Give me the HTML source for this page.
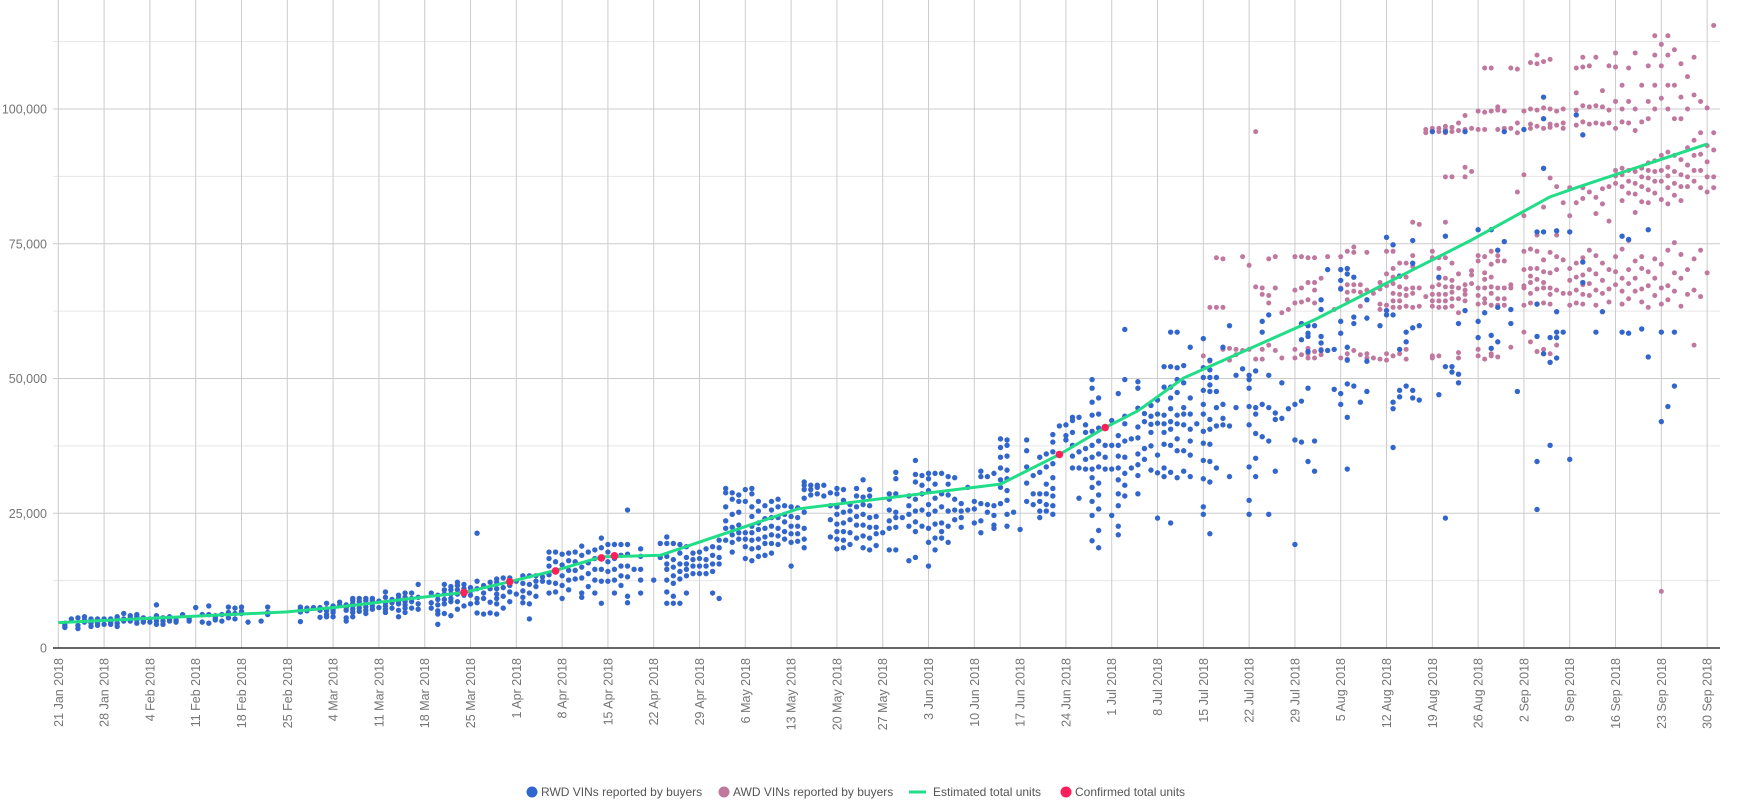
<!DOCTYPE html>
<html><head><meta charset="utf-8"><style>
html,body{margin:0;padding:0;background:#fff;}
svg{display:block;font-family:"Liberation Sans",Arial,sans-serif;}
</style></head><body>
<svg id="chart" width="1739" height="808" viewBox="0 0 1739 808" xmlns="http://www.w3.org/2000/svg">
<g id="grid"></g>
<g id="yaxis"></g>
<g id="xaxis"></g>
<g id="awd"></g>
<g id="rwd"></g>
<g id="est"></g>
<g id="conf"></g>
<g id="legend">
  <g><circle cx="532" cy="792" r="5.5" fill="#3366cc"/><text x="541" y="796" font-size="12" fill="#555">RWD VINs reported by buyers</text></g>
  <g><circle cx="724" cy="792" r="5.5" fill="#c0789f"/><text x="733" y="796" font-size="12" fill="#555">AWD VINs reported by buyers</text></g>
  <g><line x1="909" y1="792" x2="926" y2="792" stroke="#22dd88" stroke-width="3"/><text x="933" y="796" font-size="12" fill="#555">Estimated total units</text></g>
  <g><circle cx="1066" cy="792" r="5.5" fill="#ff1f5a"/><text x="1075" y="796" font-size="12" fill="#555">Confirmed total units</text></g>
</g>
</svg>
<script>
const yTicks=[0,25000,50000,75000,100000];
const yTickLabels=["0","25,000","50,000","75,000","100,000"];
const xTickDays=[0,7,14,21,28,35,42,49,56,63,70,77,84,91,98,105,112,119,126,133,140,147,154,161,168,175,182,189,196,203,210,217,224,231,238,245,252];
const xTickLabels=["21 Jan 2018","28 Jan 2018","4 Feb 2018","11 Feb 2018","18 Feb 2018","25 Feb 2018","4 Mar 2018","11 Mar 2018","18 Mar 2018","25 Mar 2018","1 Apr 2018","8 Apr 2018","15 Apr 2018","22 Apr 2018","29 Apr 2018","6 May 2018","13 May 2018","20 May 2018","27 May 2018","3 Jun 2018","10 Jun 2018","17 Jun 2018","24 Jun 2018","1 Jul 2018","8 Jul 2018","15 Jul 2018","22 Jul 2018","29 Jul 2018","5 Aug 2018","12 Aug 2018","19 Aug 2018","26 Aug 2018","2 Sep 2018","9 Sep 2018","16 Sep 2018","23 Sep 2018","30 Sep 2018"];
// values in thousands, grouped by day index (0 = 21 Jan 2018)
const rwdDays=[1,2,3,4,5,6,7,8,9,10,11,12,13,14,15,16,17,18,19,20,21,22,23,24,25,26,27,28,29,31,32,37,38,39,40,41,42,43,44,45,46,47,48,49,50,51,52,53,54,55,57,58,59,60,61,62,63,64,65,66,67,68,69,70,71,72,73,74,75,76,77,78,79,80,81,82,83,84,85,86,87,88,89,91,92,93,94,95,96,97,98,99,100,101,102,103,104,105,106,107,108,109,110,111,112,113,114,115,116,117,118,119,120,121,122,123,124,125,126,127,128,129,130,131,132,133,134,135,136,137,138,139,140,141,142,143,144,145,146,147,148,149,150,151,152,153,154,155,156,157,158,159,160,161,162,163,164,165,166,167,168,169,170,171,172,173,174,175,176,177,178,179,180,181,182,183,184,185,186,187,188,189,190,191,192,193,194,195,196,197,198,199,200,202,203,204,205,206,207,208,211,212,213,214,215,217,218,219,220,221,222,223,226,227,228,229,230,231,233,235,236,239,240,242,243,245,246,247,210,212,215,221,224,227,232,233];
const rwdVals=[[3.8,4.2,4.6],[5.4],[3.6,4.2,5.6],[4.8,5.2,5.8],[4.0,4.6,5.4],[4.2,4.6,5.0,5.4],[4.4,5.4],[4.4,4.8,5.2,5.4],[4,4.6,5.4,5.8],[5,5.4,6.4],[5,5.6,6],[4.6,5.2,5.8,6.2],[4.8,5.2,5.6],[4.8,5.4],[4.4,5,5.6,6,8],[4.4,5,5.6],[5,5.4,5.8],[4.8,5.2],[6.2],[5,5.4],[7.5],[4.8,6.2],[4.6,6.2,7.8],[5.2,5.6,6],[5,6.2],[5.6,6.6,7.6],[5.4,6.4,7.4],[6.4,6.8,7.6],[4.8],[5],[6.2,6.6,7.6],
[4.9,6.7,7.2,7.6],[6.9,7.4],[7.5],[5.7,7,7.5],[5.8,6.2,6.9,7.3,8.3],[5.8,6.6,7.1,7.8],[7.9,8.5],[5,5.6,7,7.5,8],[5.8,6.6,7.2,7.8,8.2,8.8,9.2],[6.8,7.4,8,8.6,9.2],[6.4,7,7.6,8.2,8.8,9.2],[7.2,7.8,8.8,9.2],[7.5,8.7],[6.6,7.2,7.8,8.4,9.4,10.4],[7.4,8.4,9],[5.8,7,8.2,8.6,9.2,9.8],[6.6,7.4,8,8.6,9.4,10.2],[7.4,8.6,9.2,10.2],[7.2,8.2,9.4,11.8],[7.4,8.4,10.2],[4.4,6.3,6.9,8,9,9.8],[6.4,8.2,9,10,10.8,11.8],[6,8.6,9.2,10,10.8,11.4],[7.2,8.6,10,10.8,11.6,12.2],[7.8,9.8,11,11.8],[8.2,9.8,10.6,11.2],[6.5,8.4,9.2,11,12.4,21.3],[6.3,9.2,10.2,11.6],[6.5,8.5,11,12.2],[6.3,8.2,9.2,10,11,12.2,12.8],[7.4,9.6,11.2,13],[8.6,10.4,11.6,13],[10,12.4],[8.4,9.4,10.6,12,13.4],[5.4,8.2,10.2,11.8,13.4],[9.6,11.4,12.4,13.4],[12.4,13.2],
[10.2,12.2,13.6,15.2,16.6,17.8],[10.4,12,14.4,16,17.8],[9.2,11.6,13.4,15.4,17.4],[10.8,12.6,14.4,16.2,17.6],[12.8,14.4,16,17.8],[9.4,10.2,13,15,17.2,18.9],[11.4,13.8,15.8,17.8],[10.2,12.6,14.6,16.6,18.2],[8.3,12.4,14.6,16.8,18.6,20.4],[12.4,14.2,16,17.8,19.2],[10.2,12.6,14.6,16.6,19.2],[11.6,13.4,15.2,17.2,19.2],[8.4,9.6,13.2,15.2,17.4,19.2,25.6],[14.6],[10.2,12.6,14.6,17,18.4],[12.6],[16.8,19.4],[8.3,10.4,12.6,14.6,15.6,17,19.4,20.6],[8.3,9.6,12,13.4,15,16.4,19.4],[8.3,12.8,14.2,15.6,17.6,19.2],[10.2,13.4,14.6,15.6,16.8,18.8],[13.8,15.2,16.4,17.6],[13.8,15.2,16.6,17.8],[13.8,15.2,16.4,18.4],[10.2,14.2,15.6,17.2,18.8],[9.2,15.6,16.8,18.6,20],[20,22.2,23.6,26.2,28.8,29.6],[17.8,19.6,21,22.4,24.8,27.6,28.8],[20.2,21.4,22.8,25.2,27.2,28.4],[16.6,18.8,20.2,21.4,27.2,29.4],
[16.2,18.4,20,21.4,22.6,24.4,26.2,28.6,29.6],[17,18.6,20.2,22,23.2,25.4,27.2],[17.2,19.4,20.6,22.2,24,26.4],[17.6,19.4,21,22.6,24.2,25.6,27.2],[19.2,20.8,22.2,24.2,26.2,27.6],[20.2,21.6,23.4,24.8,26.4],[15.2,19.6,21.2,22.6,24.4,26.2],[19.8,21.2,22.6,24.2,26],[18.6,20.2,22.2,25.2,27.8,29.4,30.2,30.8],[28.4,29.4,30.2],[28.6,29.8,30.2],[28.2,30.2],[20.6,23.8,26.4,28.8],[18.4,20.2,21.6,23,24.8,26.2,28.6,29.6],[18.6,20,21.6,23.2,25.2,27.4,29.4],[19.2,21.4,23.8,25.4,26.6],[20.4,22.8,24.4,26.2,28.2,29.6],[18.6,20.8,22.8,24.8,26.6,28,31.2],[18.2,20.4,22.4,24.2,26.4,28.2,29.4],[19,21.2,22.4,24.4],[21.4],[18.2,22.2,23.6,25.6,27.6,28.6],[18.2,22.4,24.2,25.2,28.6,31.4,32.6],[24.2],[16.2,22.6,24.8,26.4,28.2],[16.8,21.6,23.4,25.4,27.6,30.8,32.2,34.8],[22.6,25.6,28.6,30.2,32],[15.2,19.6,22.2,24.8,26.6,29.2,31.4,32.4],[18.2,20.4,23,25.4,27.8,30.4,32.4],[20.4,21.6,23.2,26.2,28.6,32.4],[19.6,22.6,25.4,28.4,30.4,31.8],[23.8,25.6,27.6,31.6],[22.4,24.2,25.4,26.8],[25.6,29.8],[23.2,25.8,27.2],[21.4,23.6,26.8,31.8,32.8],[25.2,26.6,31.8],[22.2,22.8,24.6,26.4,32.4],[26.8,29.8,31.2,33.4,35.4,37.2,38.8],[22.6,24.8,27.4,29.2,31.4,33,35.6,37.6,38.6],[25.2],[22],[27.2,30.6,33.6,36.6,38.6],[26.6,28.6,32],[24.2,25.4,27.2,28.6,32.6,35.4],[25.4,26.6,28.6,30.4,33.6,36],[24.8,26.4,28.2,29.6,31.6,34.2,36.4,38.2,39.6],[41.2],[38.6,39.4,41.4],[33.4,35.6,37.6,40,42.2,42.8],[27.8,33.4,36.4,42.8],[33.2,35,37,40,41.4],[19.9,24.6,27.2,29.8,31.6,33.2,35.4,37.6,40.2,43.2,45.6,48.2,49.8],[18.6,21.8,25.8,28.4,30.6,33.6,36,38.4,40.8,43.4,46.4],[33.2,35.4,37.6],[24.6,33.2,37.6,42.2],[21,22.6,26.4,28.6,31.2,33.4,35.6,37.6,39.4,47.2],[28.2,30.2,32.4,35.4,38.4,41.6,43,49.8,59.1],[33.4,38.8],[28.6,32,34,36,39,41,44.5,48.2,49.4],[35,37,42,43.5],[33,37.5,40,41.5,43,45],[24.1,32.5,35.8,41.7,43.4,46],[31.8,33.4,37.8,40,41.6,43.2,48.4,52.2],[23.2,32.6,37.6,40.6,42,44.4,46.4,48.4,52.2,58.6],[31.6,36.6,38.8,41.6,43.2,47.4,49.8,52,58.6],[32.8,36.6,41.4,43.4,44.6,49.2,52.4],[31.8,35.8,38.4,40.6,43.4,46.4,55.8],[41.6],[24.8,26.2,31.4,34.8,38,40.2,43.4,45.2,47.8,50.2,52,57.4],[21.2,30.8,34.6,37.8,40.6,42.4,47.6,48.8,50.2,51.6,53.4],[33.4,41.2,44.6,47.6,50.2],[41.4,42.6,45.2,55.8],[31.8,41.2,59.8],[44.6,50.6],[51.8],[24.8,27.4,33.6,41.4,44.8,48.2,49.8,50.6],[31.8,35.2,39.8,43.4,44.6,51.4],[39.2,45.2,58.6,60.6],[24.8,38.4,44.6,50.6,61.8],[32.8,42.4,43.6],[42.6,49.2],[44.4],[19.2,38.6,45.2],[38.2,45.8,57.2,60.2],[34.6,48.2,55,57.8,58.4,59.8],[32.8,38.4,59.8],[55.2,56.6,57.8,62.8,64.6],[55.2,70.2],[48,55.4],[45.2,47.2,58.4,60.6,66.6,68.2,70.2],[33.2,42.8,49,53.4,55.8,69.4,70.4],[48.6,60.2,61.4,68.8],[45.6],[47.6,53.2,61.2,64.6],[59.8],[61.8,62.6,76.2],[37.2,44.4,45.6,61.8,74.8],[46.6,47.8,55.4,69],[48.6,56.8,58.6],[46.4,47.8,59.4,71.4,75.6],[46,59.8],[47,68.8],[24.1,52.2,76.4],[51.2,52.2],[49.2,50.8,60.2],[62.6],[57.6,60.6,77.6],[62.2],[55.6,58,77.6],[56.8,63.2,73.8],[75.4],[60.2,62.8],[47.6],[25.7,34.6,57.8,63.8,77.2],[54.6,77.2],[37.6,53,57.6],[53.8,57.6,58.6,62.4,77.4],[58.6],[35,77.2],[67.8,71.6],[58.6],[62.4],[58.6,76.4],[58.4,75.8],[59.2],[54,77.6],[42,58.6],[44.8],[48.6,58.6],
[95.8],[95.8],[95.8],[95.8],[96.2],[89,98.2,102.2],[98.9],[95.2]];
const awdDays=[175,176,177,178,179,180,181,182,183,184,185,186,187,188,189,190,191,192,193,194,195,196,197,198,199,200,201,202,203,204,205,206,207,208,209,210,211,212,213,214,215,216,217,218,219,220,221,222,223,224,225,226,227,228,229,230,231,232,233,234,235,236,237,238,239,240,241,242,243,244,245,246,247,248,249,250,251,252,253];
const awdVals=[[54.2],[53.2,63.2],[63.2,72.4],[55.4,63.2,72.2],[53.4,55.6],[54.4,55.4],[55.2,72.6],[55.4,71],[53.6,67,95.8],[53.6,55.4,65.6,66.8],[56.2,64,65.4,72.2],[55.2,66.8,72.6],[53.8,62.2],[62.8],[53.8,55.4,64,66.4,72.6],[54.4,64.2,66.8,72.6],[53.8,54.6,55.6,64.6,67.8,72.4],[53.8,55,64,66.4,67.8,72.4],[54.4,55.4,68.6],[72.6],[62.8],[53.8,66.8,72.6],[53.6,54.6,64.6,66,67.4,73.6],[55.2,66.2,67.4,73.4,74.4],[54.4,63.4,66,67.4],[53.8,54.6,64.6,66.4,73.4],[53.8,65.8],[53.6,62.8,63.8,66.6,67.8],[53.4,54.6,63.6,67.2,69.4,73.6],[54.2,63.2,64.4,65.8,67.6,68.8,70.4,73.6],[54.6,63.2,64.4,65.6,67,69,71.4],[53.6,55.4,63.4,65.4,66.6,68.8,71.4],[63.2,65.8,66.8,70.8,72.8,79],[63.4,66.8,78.6],[65.2,95.6,96.2],[53.8,54.2,63.4,64.4,65.6,67,72.4,73.6,95.8,96.4],[54.2,63.2,64.4,65.6,67.4,68.6,70.4,72.4,95.8,96.4],[63.2,64.4,65.6,67,68.6,72.4,79,87.4,95.6,96.2,96.8],[63.4,64.8,66,67,68.2,71.4,87.4,95.8,96.6],[53.8,54.8,62.2,64.8,66.8,69.4,96,97.4],[64.4,65.6,66.4,67.4,87.4,89.2,96.2,98.8],[67.6,69.2,70,88.4,96.4],[54.2,55.4,63.8,65.4,66.8,71.8,72.8,96.2,99.6],[53.6,64,64.8,66.8,68.4,69.6,72.6,96.2,99.4,107.6],[54.2,54.6,63.6,65.8,67,68.8,71.2,73.6,99.6,107.6],[54,63.6,64.8,66.8,71.8,72.8,96.2,99.8,100.4],[63.6,64.8,66.8,71.8,96.4,99.6],[55.8,66.8,67.4,96.4,107.6],[84.6,95.6,97.4,107.4],[58.6,63.6,66.8,67.2,70.2,73.6,80.2,87.8,99.6],[56.8,64,65.8,67.8,69,70.4,74,96.4,97.2,100,108.6],[55,63.8,66.6,68.4,70.4,73.6,76.6,96.8,99.8,108.4,110],[55.4,64,66.8,67.8,69.8,72,81.8,96.4,100.2,108.8],[54.6,63.8,65.6,66.8,69.6,73.4,87.2,96.6,97.2,100,109.2],[56.2,66.4,70.2,72.6,76.6,85.6,97,99.6],[65.8,72,82.6,96.4,97.4,100],[63.6,65.8,68.2,70.4,80.2,85.4],[64,66.4,68.8,71.4,82.6,97,99.8,103,107.6],[63.8,65.6,67.4,69.2,72.4,83.4,85.4,97.6,100.6,107.8,109.6],[65.4,67.6,70.2,73.8,84.6,97.2,100.4,108],[63.6,66.4,69.4,72.8,80.6,83.6,97.4,100.6,109.6],[65.8,68.2,71.4,82.4,85.2,97.2,100.4,103.4],[64.2,66.6,70.2,79.2,85.6,97.4,99.8,108],[67.4,69.8,72.6,86.2,87.6,88.6,96.4,101.4,107.8,110.4],[63.8,66.2,68.6,74,83,85.6,87.8,89,97.6,100,104.4],[64.8,67.6,70.2,75.6,84.4,86.6,88.6,97.4,101.4,107.6],[66.2,68.6,71.8,80.8,84.2,86.2,88.4,96,100,110.4],[64.2,66.6,70.4,72.6,82.8,85.6,87.4,89,97.6,104.4],[63.2,67.2,69.8,82.6,85,87.2,88.6,90,98.2,101.4,108],[65.4,68.6,72.2,84.4,86.6,88.4,90.4,100,104.4,110,113.6],[10.5,63.8,66.8,71.2,83.2,86.6,88.6,91.4,102,108,112],[64.6,67.2,73.8,82.4,85.4,87.6,89.2,92,100,104.4,110,113.6],[66.2,69.6,75.2,84,86.2,88.4,91.4,98.2,104.4,111],[63.4,68.6,73,83,85.6,87.8,90.6,98.2,102.2,108.4],[65.6,70.2,85.6,87.4,89.6,92.8,100,106],[56.2,66.4,72.2,86.6,88.6,91.4,94.2,102.6,109.6],[65.2,73.8,85.4,88.6,91.6,95.6,101.4],[69.6,84.6,87.4,90.2,93.2,100.2],[85.4,87.4,92.4,95.6,115.5]];
const estDays=[0,35,42,62,69,76,83,92,113,144,153,160,165,172,192,216,228,232,252];
const estVals=[4.7,6.7,7.5,10.3,12.3,14.4,16.9,17.2,25.8,30.4,35.9,40.9,44.0,50.1,60.9,75.7,83.7,85.4,93.5];
const confDays=[62,69,76,83,85,153,160];
const confVals=[10.3,12.3,14.3,16.7,17.1,35.9,40.9];

const NS="http://www.w3.org/2000/svg";
const X0=58.3,DX=6.543,Y0=648,KY=5.39;
function xs(d){return X0+d*DX;}
function ys(k){return Y0-k*KY;}
function mk(tag,attrs,parent){const e=document.createElementNS(NS,tag);for(const k in attrs)e.setAttribute(k,attrs[k]);parent.appendChild(e);return e;}
const grid=document.getElementById('grid'),yaxis=document.getElementById('yaxis'),xaxis=document.getElementById('xaxis');
for(let v=12.5;v<=112.5;v+=12.5){
  const major=(v%25===0);
  const l=mk('line',{x1:53,x2:1720,y1:ys(v),y2:ys(v),stroke:major?'#cccccc':'#e6e6e6','stroke-width':1},grid);
  
  
}
xTickDays.forEach((d,i)=>{
  const l=mk('line',{x1:xs(d),x2:xs(d),y1:0,y2:Y0,stroke:'#cccccc','stroke-width':1},grid);
  
  
  const t=mk('text',{x:0,y:0,'font-size':12.5,fill:'#757575','text-anchor':'end',transform:`translate(${xs(d)+4.5},${Y0+10}) rotate(-90)`},xaxis);
  t.textContent=xTickLabels[i];
  
  
});
yTicks.forEach((v,i)=>{
  const t=mk('text',{x:47,y:ys(v/1000)+4.5,'font-size':12.5,fill:'#757575','text-anchor':'end'},yaxis);
  t.textContent=yTickLabels[i];
  
  
});
const ax=mk('line',{x1:53,x2:1720,y1:Y0,y2:Y0,stroke:'#333','stroke-width':1.5},yaxis);



const awdG=document.getElementById('awd');
awdDays.forEach((d,i)=>{awdVals[i].forEach(v=>{
  const c=mk('circle',{cx:xs(d),cy:ys(v),r:2.5,fill:'#c0789f'},awdG);
  
  
});});
const rwdG=document.getElementById('rwd');
rwdDays.forEach((d,i)=>{rwdVals[i].forEach(v=>{
  const c=mk('circle',{cx:xs(d),cy:ys(v),r:2.7,fill:'#3366cc'},rwdG);
  
  
});});
const estG=document.getElementById('est');
const p=mk('polyline',{points:estDays.map((d,i)=>xs(d)+','+ys(estVals[i])).join(' '),fill:'none',stroke:'#22dd88','stroke-width':3,'stroke-linejoin':'round'},estG);


const confG=document.getElementById('conf');
confDays.forEach((d,i)=>{
  const c=mk('circle',{cx:xs(d),cy:ys(confVals[i]),r:3.8,fill:'#ff1f5a'},confG);
  
  
});
</script>
</body></html>
